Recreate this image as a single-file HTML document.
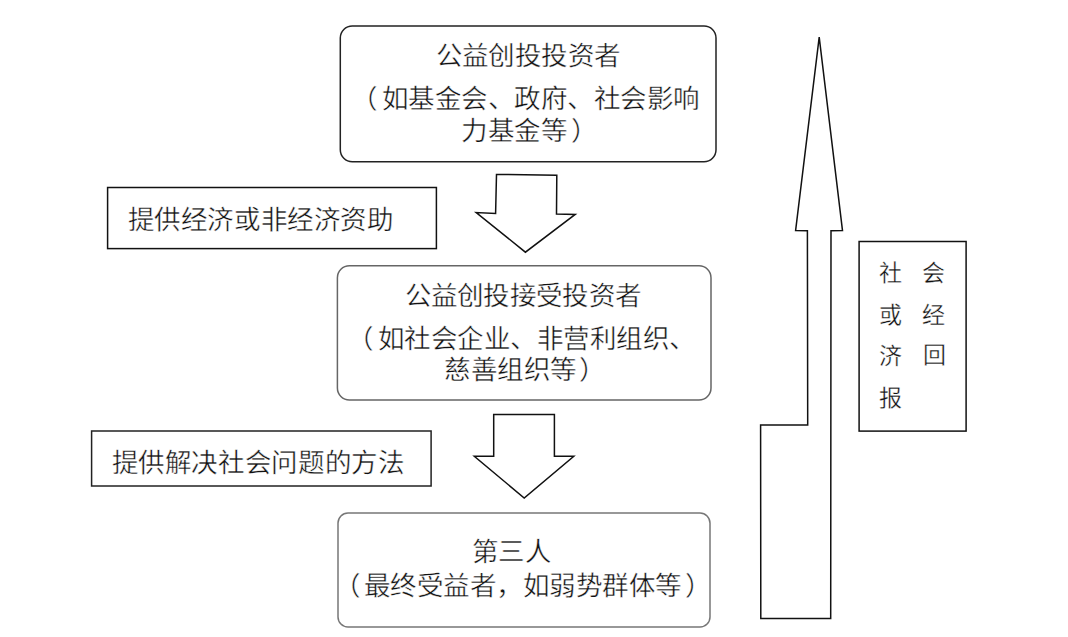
<!DOCTYPE html>
<html lang="zh-CN">
<head>
<meta charset="utf-8">
<style>
html,body{margin:0;padding:0;background:#fff;}
body{width:1068px;height:637px;position:relative;overflow:hidden;font-family:"Liberation Serif", serif;}
svg{position:absolute;left:0;top:0;}
.t{position:absolute;white-space:nowrap;font-size:26.5px;line-height:27px;-webkit-text-stroke:0.4px #fff;color:#111;text-spacing-trim:space-all;}
.c{text-align:center;}
</style>
</head>
<body>
<svg width="1068" height="637" viewBox="0 0 1068 637">
  <g fill="none" stroke-linejoin="miter">
    <rect x="340.3" y="26" width="375.7" height="135.8" rx="12" ry="12" stroke="#222" stroke-width="1.5"/>
    <rect x="337.4" y="265.8" width="373.6" height="134.3" rx="12" ry="12" stroke="#666" stroke-width="1.5"/>
    <rect x="338" y="513" width="372" height="114" rx="10" ry="10" stroke="#777" stroke-width="1.5"/>
    <rect x="107.6" y="187.5" width="328.8" height="61.1" stroke="#111" stroke-width="1.5"/>
    <rect x="91.6" y="431" width="339.5" height="55" stroke="#222" stroke-width="1.5"/>
    <rect x="859.1" y="241.5" width="107" height="189.6" stroke="#111" stroke-width="1.5"/>
    <polygon points="496.5,174.4 556.8,175.2 556.5,214.1 575.2,214.4 525.4,252.2 476.2,212.5 495.6,213.5" stroke="#111" stroke-width="1.5"/>
    <polygon points="493.7,414.4 554.4,414.4 554.4,456.3 573.8,456.3 524.2,498.0 474.3,456.3 493.7,456.3" stroke="#111" stroke-width="1.5"/>
    <polygon points="819.2,37.2 842.5,230.6 831,230.8 830.7,618.4 760.8,618.4 760.6,425 807.7,425 807.4,230.8 795.6,230.6" stroke="#111" stroke-width="1.5"/>
  </g>
</svg>
<div class="t" id="a1" style="left:435.6px;top:42.8px;letter-spacing:0.4px;">公益创投投资者</div>
<div class="t" id="a2" style="left:351.0px;top:86.0px;letter-spacing:0.5px;"><span style="margin-right:4px">（</span>如基金会、政府、社会影响</div>
<div class="t" id="a3" style="left:461.0px;top:118.0px;letter-spacing:0.5px;">力基金等<span style="margin-left:4px">）</span></div>
<div class="t" id="b1" style="left:404.5px;top:282.6px;letter-spacing:0.33px;">公益创投接受投资者</div>
<div class="t" id="b2" style="left:347.0px;top:326.0px;letter-spacing:0.5px;"><span style="margin-right:4px">（</span>如社会企业、非营利组织、</div>
<div class="t" id="b3" style="left:444.0px;top:357.0px;letter-spacing:0.5px;">慈善组织等<span style="margin-left:2px">）</span></div>
<div class="t" id="c1" style="left:471.5px;top:539.0px;letter-spacing:0.5px;">第三人</div>
<div class="t" id="c2" style="left:334.0px;top:573.3px;letter-spacing:0.5px;"><span style="margin-right:3px">（</span>最终受益者，如弱势群体等<span style="margin-left:3px">）</span></div>
<div class="t" id="l1" style="left:127.5px;top:207.0px;letter-spacing:0.62px;">提供经济或非经济资助</div>
<div class="t" id="l2" style="left:111.5px;top:450.0px;letter-spacing:0.66px;">提供解决社会问题的方法</div>
<div class="t" id="r1" style="left:879.0px;top:262.4px;font-size:23px;line-height:23px;-webkit-text-stroke:0.35px #fff;">社</div>
<div class="t" id="r2" style="left:922.0px;top:262.0px;font-size:23px;line-height:23px;-webkit-text-stroke:0.35px #fff;">会</div>
<div class="t" id="r3" style="left:879.0px;top:304.0px;font-size:23px;line-height:23px;-webkit-text-stroke:0.35px #fff;">或</div>
<div class="t" id="r4" style="left:922.0px;top:304.0px;font-size:23px;line-height:23px;-webkit-text-stroke:0.35px #fff;">经</div>
<div class="t" id="r5" style="left:879.0px;top:345.0px;font-size:23px;line-height:23px;-webkit-text-stroke:0.35px #fff;">济</div>
<div class="t" id="r6" style="left:923.0px;top:344.0px;font-size:23px;line-height:23px;-webkit-text-stroke:0.35px #fff;">回</div>
<div class="t" id="r7" style="left:879.0px;top:387.0px;font-size:23px;line-height:23px;-webkit-text-stroke:0.35px #fff;">报</div>
</body>
</html>
